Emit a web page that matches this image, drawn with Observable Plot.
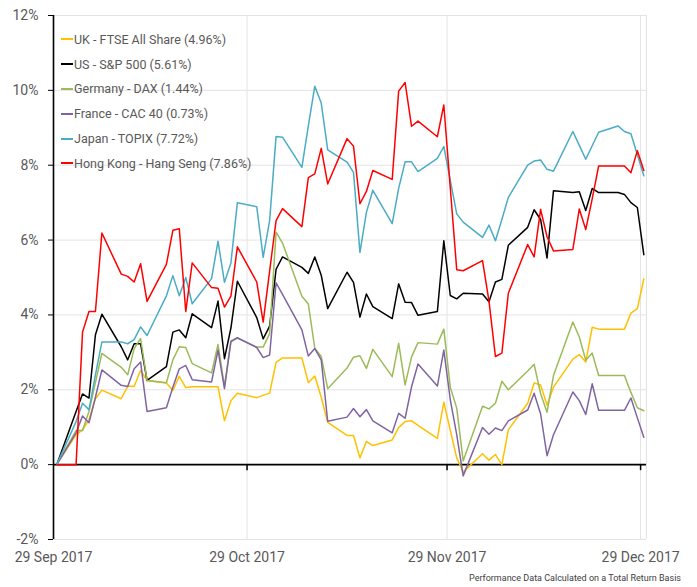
<!DOCTYPE html>
<html>
<head>
<meta charset="utf-8">
<script src="https://cdn.jsdelivr.net/npm/d3@7"></script>
<script src="https://cdn.jsdelivr.net/npm/@observablehq/plot@0.6"></script>
<style>
  html, body { margin: 0; padding: 0; background: #fff; }
  #wrap { position: relative; width: 697px; height: 587px; font-family: Roboto, "DejaVu Sans", sans-serif; }
  #legend { position: absolute; left: 61px; top: 27px; }
  .row { height: 24.8px; display: flex; align-items: center; font-size: 12.5px; color: #595959; white-space: nowrap; }
  .sw { display: inline-block; width: 12px; height: 2px; margin-right: 1px; }
  #note { position: absolute; right: 16px; top: 573px; font-size: 9px; color: #404040; white-space: nowrap; }
</style>
</head>
<body>
<div id="wrap">
  <div id="chart"></div>
  <div id="legend"></div>
  <div id="note"></div>
</div>
<script>
const dates = ["2017-09-29","2017-10-02","2017-10-03","2017-10-04","2017-10-05","2017-10-06","2017-10-09","2017-10-10","2017-10-11","2017-10-12","2017-10-13","2017-10-16","2017-10-17","2017-10-18","2017-10-19","2017-10-20","2017-10-23","2017-10-24","2017-10-25","2017-10-26","2017-10-27","2017-10-30","2017-10-31","2017-11-01","2017-11-02","2017-11-03","2017-11-06","2017-11-07","2017-11-08","2017-11-09","2017-11-10","2017-11-13","2017-11-14","2017-11-15","2017-11-16","2017-11-17","2017-11-20","2017-11-21","2017-11-22","2017-11-23","2017-11-24","2017-11-27","2017-11-28","2017-11-29","2017-11-30","2017-12-01","2017-12-04","2017-12-05","2017-12-06","2017-12-07","2017-12-08","2017-12-11","2017-12-12","2017-12-13","2017-12-14","2017-12-15","2017-12-18","2017-12-19","2017-12-20","2017-12-21","2017-12-22","2017-12-25","2017-12-26","2017-12-27","2017-12-28","2017-12-29"];

const uk = [0, 0.8, 0.93, 1.2, 1.76, 1.99, 1.76, 2.1, 2.09, 2.52, 2.25, 2.18, 1.98, 2.36, 2.06, 2.08, 2.08, 2.08, 1.17, 1.71, 1.91, 1.79, 1.85, 1.91, 2.73, 2.85, 2.85, 2.19, 2.37, 1.8, 1.13, 0.78, 0.78, 0.18, 0.62, 0.51, 0.66, 0.99, 1.15, 1.17, 1.05, 0.7, 1.67, 0.92, 0.18, -0.2, 0.29, 0.12, 0.27, 0.0, 0.93, 1.64, 2.18, 2.13, 1.59, 2.07, 2.82, 2.94, 2.74, 3.67, 3.62, 3.62, 3.62, 4.05, 4.17, 4.96];
const us = [0, 1.42, 1.89, 1.78, 3.47, 4.02, 3.15, 2.8, 3.23, 3.23, 2.25, 2.62, 3.54, 3.6, 3.39, 4.03, 3.66, 4.37, 2.83, 3.65, 4.9, 3.93, 3.36, 3.7, 5.22, 5.55, 5.27, 5.11, 5.55, 5.06, 4.17, 5.14, 4.87, 3.94, 4.56, 4.22, 3.9, 4.83, 4.34, 4.33, 3.99, 4.09, 5.98, 4.52, 4.43, 4.58, 4.56, 4.35, 4.88, 4.95, 5.86, 6.34, 6.81, 6.55, 5.52, 7.32, 7.27, 7.29, 6.79, 7.38, 7.27, 7.27, 7.22, 7.0, 6.87, 5.61];
const germany = [0, 0.91, 0.91, 1.42, 2.2, 2.97, 2.6, 2.4, 3.1, 3.37, 2.25, 2.19, 2.8, 3.15, 3.13, 2.7, 2.45, 3.21, 2.1, 3.28, 3.38, 3.14, 3.14, 3.5, 6.21, 5.92, 4.5, 4.29, 3.11, 2.89, 2.03, 2.58, 2.87, 2.91, 2.57, 3.08, 2.35, 3.24, 2.13, 2.88, 3.26, 3.22, 3.62, 2.07, 1.51, 0.1, 1.56, 1.49, 1.64, 2.23, 2.0, 2.5, 2.68, 1.9, 1.4, 2.38, 3.81, 3.41, 2.79, 2.98, 2.38, 2.38, 2.38, 1.93, 1.52, 1.44];
const france = [0, 0.85, 1.3, 1.12, 1.8, 2.53, 2.12, 2.09, 2.56, 2.74, 1.42, 1.52, 2.07, 2.56, 2.65, 2.27, 2.21, 3.06, 2.03, 3.3, 3.39, 3.13, 2.86, 2.93, 4.86, 4.55, 3.6, 2.9, 3.1, 2.8, 1.16, 1.27, 1.5, 1.28, 1.47, 1.17, 0.85, 1.37, 1.24, 2.08, 2.69, 2.1, 3.06, 1.74, 0.8, -0.3, 0.99, 0.81, 0.98, 0.91, 1.17, 1.46, 1.91, 1.36, 0.24, 0.8, 1.94, 1.71, 1.34, 2.16, 1.45, 1.45, 1.45, 1.78, 1.25, 0.73];
const japan = [0, 1.15, 1.64, 1.47, 2.4, 3.28, 3.28, 3.23, 3.34, 3.68, 3.45, 4.51, 5.05, 4.51, 5.0, 4.3, 4.97, 5.97, 4.87, 5.39, 7.0, 6.89, 5.54, 6.52, 8.77, 8.75, 7.94, 9.05, 10.11, 9.66, 8.41, 8.08, 7.81, 5.67, 6.74, 7.33, 6.44, 7.38, 8.09, 8.09, 7.83, 8.18, 8.5, 7.6, 6.7, 6.48, 6.07, 6.4, 5.98, 6.55, 7.14, 8.0, 8.11, 8.14, 7.89, 7.84, 8.9, 8.53, 8.16, 8.52, 8.88, 9.05, 8.9, 8.84, 8.28, 7.72];
const hongkong = [0, 0, 3.54, 4.09, 4.09, 6.19, 5.09, 5.03, 4.88, 5.37, 4.36, 5.35, 6.26, 6.3, 4.09, 5.39, 4.73, 4.71, 4.21, 4.5, 5.82, 4.88, 3.81, 5.17, 6.52, 6.84, 6.36, 7.67, 7.77, 8.45, 7.5, 8.71, 8.51, 6.97, 7.3, 7.86, 7.62, 9.98, 10.21, 9.04, 9.18, 8.76, 9.61, 7.4, 5.21, 5.18, 5.45, 4.37, 2.89, 2.98, 4.58, 5.88, 5.55, 6.82, 6.09, 5.71, 5.75, 6.83, 6.28, 7.1, 7.98, 7.98, 7.98, 7.8, 8.39, 7.86];

const seriesNames = ["UK - FTSE All Share (4.96%)", "US - S&P 500 (5.61%)", "Germany - DAX (1.44%)", "France - CAC 40 (0.73%)", "Japan - TOPIX (7.72%)", "Hong Kong - Hang Seng (7.86%)"];
const seriesColors = ["#FFC000", "#000000", "#9BBB59", "#8064A2", "#4BACC6", "#FF0000"];
const seriesValues = [uk, us, germany, france, japan, hongkong];

const yTicks = [-2, 0, 2, 4, 6, 8, 10, 12];
const xTickLabels = ["2017-09-29", "2017-10-29", "2017-11-29", "2017-12-29"];
const xDomain = ["2017-09-29T00:00Z", "2017-12-29T22:00Z"];
const footnote = "Performance Data Calculated on a Total Return Basis";

const toDate = s => new Date(s + "T12:00Z");
const rows = seriesNames.flatMap((name, k) =>
  seriesValues[k].map((v, i) => ({date: toDate(dates[i]), value: v, name}))
);
const xd = xDomain.map(s => new Date(s));
const tickDates = xTickLabels.map(s => new Date(s + "T00:00Z"));
const fmt = d3.utcFormat("%-d %b %Y");

const chart = Plot.plot({
  width: 697,
  height: 570,
  marginLeft: 53,
  marginRight: 51,
  marginTop: 15,
  marginBottom: 31,
  style: {fontFamily: "Roboto, 'DejaVu Sans', sans-serif", fontSize: "14px", color: "#595959", background: "white"},
  x: {type: "utc", domain: xd},
  y: {domain: [-2, 12]},
  color: {domain: seriesNames, range: seriesColors},
  marks: [
    Plot.ruleY(yTicks, {stroke: "#e3e3e3", strokeWidth: 1}),
    Plot.ruleX(tickDates.slice(1), {stroke: "#e3e3e3", strokeWidth: 1}),
    Plot.ruleX([xd[1]], {stroke: "#e3e3e3", strokeWidth: 1}),
    Plot.axisY(yTicks, {tickSize: 5, tickPadding: 10, tickFormat: d => d + "%", stroke: "black", fill: "#595959", label: null}),
    Plot.axisX(tickDates, {tickSize: 0, tickPadding: 13, tickFormat: fmt, fill: "#595959", label: null}),
    Plot.ruleX([xd[0]], {stroke: "black", strokeWidth: 1.6}),
    Plot.ruleY([0], {stroke: "black", strokeWidth: 1.6}),
    Plot.ruleX(tickDates.slice(1), {y1: 0, y2: 0, insetBottom: -6, stroke: "black", strokeWidth: 1.5}),
    Plot.line(rows, {x: "date", y: "value", z: "name", stroke: "name", strokeWidth: 1.5, curve: "linear"})
  ]
});
document.getElementById("chart").appendChild(chart);

const legend = document.getElementById("legend");
seriesNames.forEach((name, k) => {
  const row = document.createElement("div");
  row.className = "row";
  const sw = document.createElement("span");
  sw.className = "sw";
  sw.style.background = seriesColors[k];
  row.appendChild(sw);
  row.appendChild(document.createTextNode(name));
  legend.appendChild(row);
});
document.getElementById("note").textContent = footnote;
</script>
</body>
</html>
